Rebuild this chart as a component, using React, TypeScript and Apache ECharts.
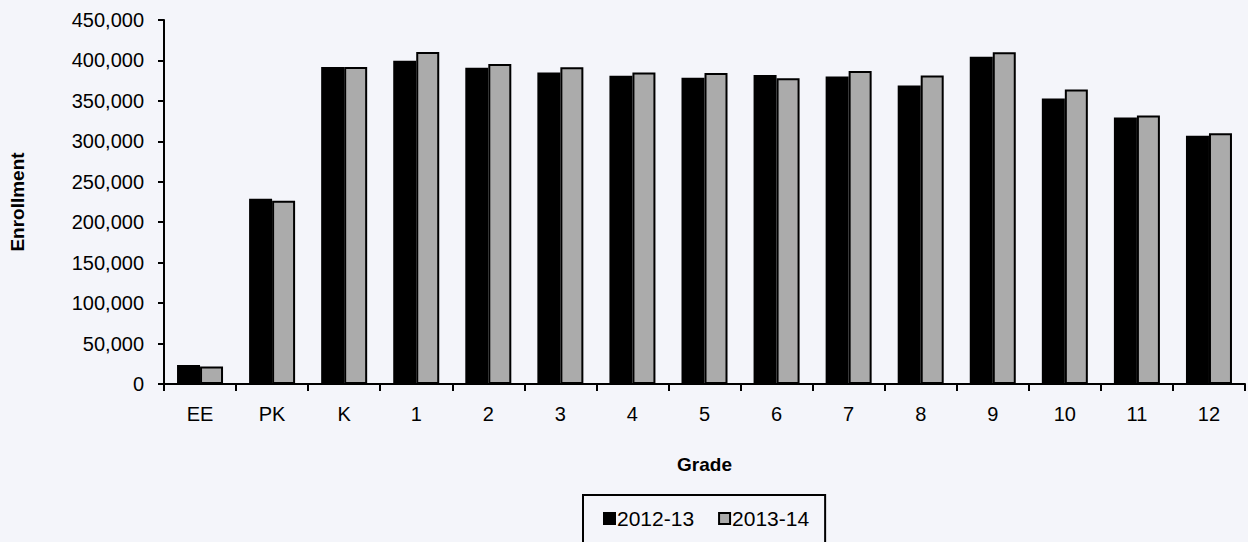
import React, { useEffect, useRef } from "react";
import * as echarts from "echarts";

const grades = ["EE", "PK", "K", "1", "2", "3", "4", "5", "6", "7", "8", "9", "10", "11", "12"];
const enroll2012 = [23500, 229000, 392000, 399500, 391000, 385000, 381000, 378500, 382000, 380000, 369000, 404500, 353000, 329500, 307000];
const enroll2013 = [21500, 226500, 392000, 410500, 395500, 391500, 385000, 384500, 378000, 387000, 381500, 410000, 364000, 332000, 310000];
const seriesNames = ["2012-13", "2013-14"];
const yTicks = { min: 0, max: 450000, interval: 50000 };

const FONT = "Liberation Sans, Arial, sans-serif";

export default function App() {
  const ref = useRef<HTMLDivElement>(null);
  useEffect(() => {
    if (!ref.current) return;
    const chart = echarts.init(ref.current, null, { renderer: "svg" });
    chart.setOption({
      animation: false,
      backgroundColor: "#f4f5fa",
      textStyle: { fontFamily: FONT },
      grid: { left: 153, right: 3, top: 20, bottom: 158, containLabel: false },
      legend: {
        data: seriesNames,
        left: 583,
        top: 495,
        padding: [13, 16, 30, 20],
        itemWidth: 11,
        itemHeight: 11,
        itemGap: 24,
        borderColor: "#000",
        borderWidth: 2,
        icon: "rect",
        textStyle: { fontFamily: FONT, fontSize: 21, color: "#000", padding: [0, 0, 0, -3] },
      },
      xAxis: {
        type: "category",
        data: grades,
        name: "Grade",
        nameLocation: "middle",
        nameGap: 71,
        nameTextStyle: { fontFamily: FONT, fontSize: 19, fontWeight: "bold", color: "#000" },
        axisLine: { lineStyle: { color: "#000", width: 2 } },
        axisTick: { show: true, length: 7, lineStyle: { color: "#000", width: 2 } },
        axisLabel: { fontFamily: FONT, fontSize: 20, color: "#000", margin: 20 },
      },
      yAxis: {
        type: "value",
        min: yTicks.min,
        max: yTicks.max,
        interval: yTicks.interval,
        name: "Enrollment",
        nameLocation: "middle",
        nameGap: 137,
        nameRotate: 90,
        nameTextStyle: { fontFamily: FONT, fontSize: 19, fontWeight: "bold", color: "#000" },
        axisLine: { show: true, lineStyle: { color: "#000", width: 2 } },
        axisTick: { show: true, length: 6, lineStyle: { color: "#000", width: 2 } },
        splitLine: { show: false },
        axisLabel: {
          fontFamily: FONT,
          fontSize: 20,
          color: "#000",
          margin: 20,
          formatter: (v: number) => v.toLocaleString("en-US"),
        },
      },
      series: [
        {
          name: seriesNames[0],
          type: "bar",
          data: enroll2012,
          barWidth: 23,
          barGap: "0%",
          itemStyle: { color: "#000", borderColor: "#000", borderWidth: 2 },
        },
        {
          name: seriesNames[1],
          type: "bar",
          data: enroll2013,
          barWidth: 23,
          itemStyle: { color: "#ababab", borderColor: "#000", borderWidth: 2 },
        },
      ],
    });
    return () => chart.dispose();
  }, []);
  return (
    <div
      ref={ref}
      style={{ position: "absolute", left: 0, top: 0, width: 1248, height: 542 }}
    />
  );
}
